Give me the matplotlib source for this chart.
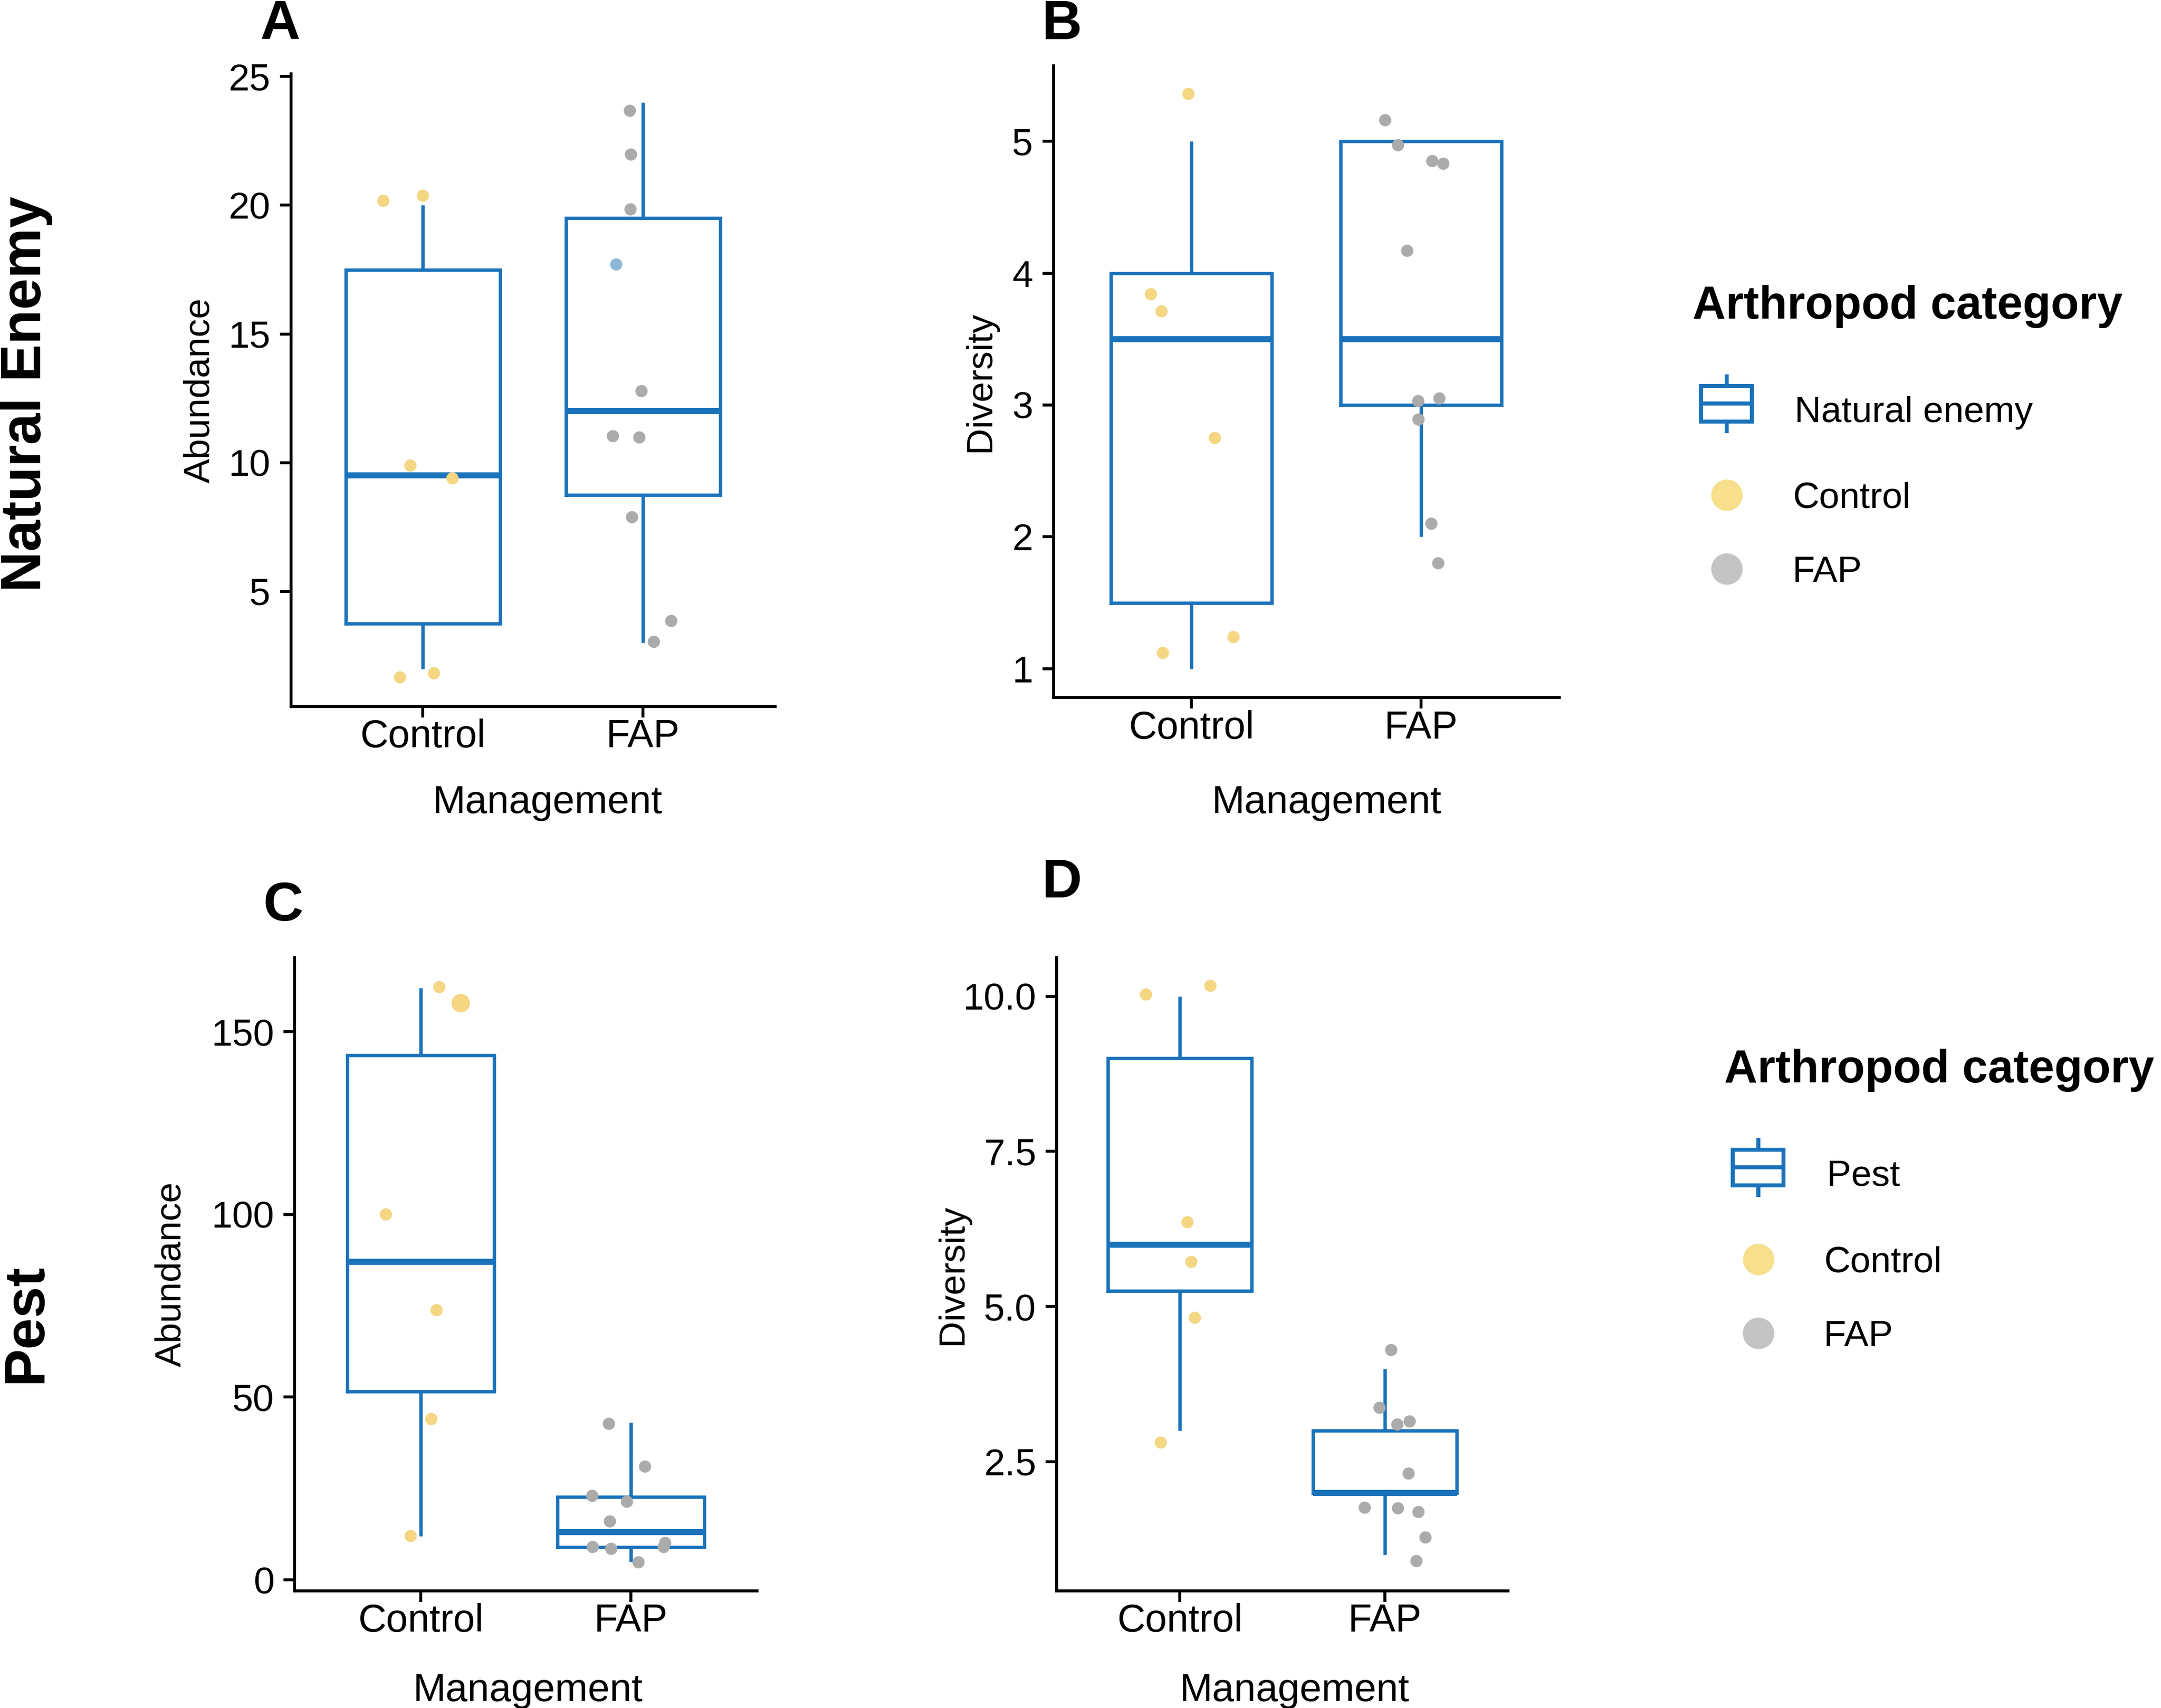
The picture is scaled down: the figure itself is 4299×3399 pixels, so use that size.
import matplotlib
matplotlib.use("Agg")
import matplotlib.pyplot as plt
from matplotlib.lines import Line2D
from matplotlib.patches import Rectangle
from matplotlib.legend_handler import HandlerBase
from matplotlib.font_manager import FontProperties, fontManager

# ---------------- data ----------------
categories = ["Control", "FAP"]

# Panel A - Natural enemy abundance
a_whislo = [2.0, 3.0]
a_q1 = [3.75, 8.75]
a_med = [9.5, 12.0]
a_q3 = [17.5, 19.5]
a_whishi = [20.0, 24.0]
a_control = [20.17, 20.37, 9.89, 9.39, 1.66, 1.82]
a_fap = [23.67, 21.97, 19.84, 17.70, 12.78, 11.03, 10.98, 7.88, 3.85, 3.04]
a_control_jit = [-0.18, 0.0, -0.057, 0.134, -0.104, 0.05]
a_fap_jit = [-0.06, -0.055, -0.057, -0.122, -0.007, -0.137, -0.017, -0.05, 0.128, 0.049]

# Panel B - Natural enemy diversity
b_whislo = [1.0, 2.0]
b_q1 = [1.5, 3.0]
b_med = [3.5, 3.5]
b_q3 = [4.0, 5.0]
b_whishi = [5.0, 5.0]
b_control = [5.36, 3.84, 3.71, 2.75, 1.24, 1.12]
b_fap = [5.16, 4.97, 4.85, 4.83, 4.17, 3.03, 3.05, 2.89, 2.10, 1.80]
b_control_jit = [-0.013, -0.176, -0.13, 0.102, 0.183, -0.124]
b_fap_jit = [-0.157, -0.101, 0.048, 0.096, -0.061, -0.013, 0.079, -0.012, 0.044, 0.074]

# Panel C - Pest abundance
c_whislo = [12.0, 5.0]
c_q1 = [51.5, 9.0]
c_med = [87.0, 13.0]
c_q3 = [143.5, 22.75]
c_whishi = [162.0, 43.0]
c_control = [162.2, 157.8, 100.0, 73.8, 44.0, 12.0]
c_fap = [42.7, 31.0, 23.0, 21.4, 16.0, 9.0, 8.5, 10.1, 9.0, 4.8]
c_control_jit = [0.088, 0.19, -0.166, 0.075, 0.05, -0.048]
c_fap_jit = [-0.105, 0.067, -0.184, -0.019, -0.1, -0.182, -0.094, 0.163, 0.156, 0.036]

# Panel D - Pest diversity
d_whislo = [3.0, 1.0]
d_q1 = [5.25, 2.0]
d_med = [6.0, 2.0]
d_q3 = [9.0, 3.0]
d_whishi = [10.0, 4.0]
d_control = [10.03, 10.17, 6.36, 5.72, 4.82, 2.81]
d_fap = [4.30, 3.37, 3.10, 3.15, 2.31, 1.76, 1.75, 1.69, 1.28, 0.90]
d_control_jit = [-0.165, 0.149, 0.037, 0.056, 0.073, -0.093]
d_fap_jit = [0.03, -0.027, 0.06, 0.12, 0.115, -0.099, 0.063, 0.163, 0.197, 0.153]

# ---------------- style ----------------
BLUE = "#1A72BB"
YELLOW = "#F4D683"
GREY = "#ABABAB"
ODD_BLUE = "#8DB7D8"
YELLOW_LEG = "#F7DF8C"
GREY_LEG = "#C4C4C4"
FONT = "Liberation Sans"

names = {f.name for f in fontManager.ttflist}
if "Liberation Sans Narrow" in names:
    LEG_FAMILY, LEG_FS = "Liberation Sans Narrow", 20.5
else:
    LEG_FAMILY, LEG_FS = FONT, 17.5
TITLE_FS = 22

plt.rcParams["font.family"] = [FONT, "DejaVu Sans"]

DPI = 300
W, H = 4299, 3399
PT = DPI / 72.0


def fx(px):
    return px / W


def fy(py):
    return 1 - py / H


fig = plt.figure(figsize=(W / DPI, H / DPI), dpi=DPI)
fig.patch.set_facecolor("white")


def draw_panel(rect, whislo, q1, med, q3, whishi, ctrl, fap, ctrl_jit, fap_jit,
               ylim, yticks, yticklabels, ylabel, ylab_x, xlab_xy,
               special=None):
    ax = fig.add_axes(rect)
    stats = []
    for i in range(2):
        stats.append(dict(whislo=whislo[i], q1=q1[i], med=med[i], q3=q3[i],
                          whishi=whishi[i], fliers=[]))
    ax.bxp(stats, positions=[1, 2], widths=0.70, showfliers=False, showcaps=False,
           boxprops=dict(color=BLUE, lw=1.6, solid_joinstyle="miter"),
           whiskerprops=dict(color=BLUE, lw=1.6, solid_capstyle="butt"),
           medianprops=dict(color=BLUE, lw=2.9, solid_capstyle="butt"),
           zorder=2)
    xs_c = [1 + j for j in ctrl_jit]
    xs_f = [2 + j for j in fap_jit]
    col_c = [YELLOW] * len(ctrl)
    col_f = [GREY] * len(fap)
    size_c = [34] * len(ctrl)
    size_f = [34] * len(fap)
    if special:
        for grp, idx, kind in special:
            if kind == "blue":
                (col_c if grp == 0 else col_f)[idx] = ODD_BLUE
            elif kind == "big":
                (size_c if grp == 0 else size_f)[idx] = 78
    ax.scatter(xs_c, ctrl, s=size_c, c=col_c, edgecolors="none", zorder=3)
    ax.scatter(xs_f, fap, s=size_f, c=col_f, edgecolors="none", zorder=3)

    ax.set_xlim(0.4, 2.6)
    ax.set_ylim(*ylim)
    ax.set_xticks([1, 2])
    ax.set_xticklabels(categories)
    ax.set_yticks(yticks)
    ax.set_yticklabels(yticklabels)
    for s in ["top", "right"]:
        ax.spines[s].set_visible(False)
    for s in ["left", "bottom"]:
        ax.spines[s].set_linewidth(1.4)
        ax.spines[s].set_color("black")
    ax.tick_params(axis="both", length=5.2, width=1.4, color="black",
                   labelcolor="black")
    ax.tick_params(axis="x", pad=0.6, labelsize=18.6)
    ax.tick_params(axis="y", pad=4.6, labelsize=18)
    ax.set_ylabel(ylabel, fontsize=17.5)
    ax.yaxis.label.set_va("center")
    ax.yaxis.set_label_coords(ylab_x, 0.5)
    ax.set_xlabel("Management", fontsize=18.8)
    ax.xaxis.label.set_va("center")
    ax.xaxis.set_label_coords(*xlab_xy)
    ax.set_facecolor("white")
    return ax


draw_panel([0.1346, 0.5864, 0.2241, 0.3703], a_whislo, a_q1, a_med, a_q3, a_whishi,
           a_control, a_fap, a_control_jit, a_fap_jit,
           (0.53, 25.1), [5, 10, 15, 20, 25], ["5", "10", "15", "20", "25"],
           "Abundance", -0.188, (0.530, -0.152), special=[(1, 3, "blue")])

draw_panel([0.4875, 0.5915, 0.2340, 0.3700], b_whislo, b_q1, b_med, b_q3, b_whishi,
           b_control, b_fap, b_control_jit, b_fap_jit,
           (0.78, 5.573), [1, 2, 3, 4, 5], ["1", "2", "3", "4", "5"],
           "Diversity", -0.144, (0.540, -0.166))

draw_panel([0.1364, 0.0686, 0.2139, 0.3706], c_whislo, c_q1, c_med, c_q3, c_whishi,
           c_control, c_fap, c_control_jit, c_fap_jit,
           (-3.0, 170.2), [0, 50, 100, 150], ["0", "50", "100", "150"],
           "Abundance", -0.267, (0.504, -0.158), special=[(0, 1, "big")])

draw_panel([0.4890, 0.0686, 0.2089, 0.3706], d_whislo, d_q1, d_med, d_q3, d_whishi,
           d_control, d_fap, d_control_jit, d_fap_jit,
           (0.42, 10.62), [2.5, 5.0, 7.5, 10.0], ["2.5", "5.0", "7.5", "10.0"],
           "Diversity", -0.230, (0.527, -0.158))

# panel letters
for letter, x, y in [("A", 0.1296, 0.9776), ("B", 0.4913, 0.9771),
                     ("C", 0.1310, 0.4610), ("D", 0.4913, 0.4746)]:
    fig.text(x, y, letter, ha="center", va="baseline", fontsize=26.5,
             fontweight="bold", color="black")

# row labels
fig.text(0.0189, 0.7692, "Natural Enemy", rotation=90, rotation_mode="anchor",
         ha="center", va="baseline", fontsize=27, fontweight="bold")
fig.text(0.0189, 0.2252, "Pest", rotation=90, rotation_mode="anchor",
         ha="center", va="baseline", fontsize=27, fontweight="bold")


# ---------------- legends ----------------
class BoxKey:
    pass


class BoxKeyHandler(HandlerBase):
    def create_artists(self, legend, orig_handle, xdescent, ydescent, width, height,
                       fontsize, trans):
        lw = 1.9
        cx = -xdescent + width / 2.0
        cy = 0.358 * fontsize + 2.4
        bw, bh, wh = 26.0 - lw, 19.0 - lw, 14.0
        rect = Rectangle((cx - bw / 2, cy - bh / 2), bw, bh, fill=False,
                         edgecolor=BLUE, lw=lw, joinstyle="miter", transform=trans)
        med = Line2D([cx - bw / 2, cx + bw / 2], [cy, cy], color=BLUE, lw=lw,
                     solid_capstyle="butt", transform=trans)
        w1 = Line2D([cx, cx], [cy + bh / 2, cy + wh], color=BLUE, lw=lw,
                    solid_capstyle="butt", transform=trans)
        w2 = Line2D([cx, cx], [cy - bh / 2, cy - wh], color=BLUE, lw=lw,
                    solid_capstyle="butt", transform=trans)
        return [rect, med, w1, w2]


class DotHandler(HandlerBase):
    def create_artists(self, legend, orig_handle, xdescent, ydescent, width, height,
                       fontsize, trans):
        cx = -xdescent + width / 2.0
        cy = 0.358 * fontsize
        m = Line2D([cx], [cy], ls="none", marker="o",
                   ms=orig_handle.get_markersize(),
                   mfc=orig_handle.get_markerfacecolor(), mec="none",
                   transform=trans)
        return [m]


leg_prop = FontProperties(family=LEG_FAMILY, size=LEG_FS)
title_prop = FontProperties(family=FONT, weight="bold", size=TITLE_FS)


def add_legend(label, left_px, title_cap_px, title_base_px, key_cx_px,
               label_left_px, label_base_px, dot_label_left_px, dot_bases_px):
    # legend with title + box key
    hl_px = 2 * (key_cx_px - left_px)
    title_bottom = title_base_px + 0.21 * TITLE_FS * PT
    row_top = label_base_px - 0.716 * LEG_FS * PT
    ls1 = (row_top - title_bottom) / PT / LEG_FS
    fig.legend([BoxKey()], [label], title="Arthropod category",
               loc="upper left", bbox_to_anchor=(fx(left_px), fy(title_cap_px)),
               bbox_transform=fig.transFigure, frameon=False,
               borderpad=0, borderaxespad=0,
               handlelength=hl_px / PT / LEG_FS, handleheight=0.7,
               handletextpad=(label_left_px - left_px - hl_px) / PT / LEG_FS,
               labelspacing=ls1, prop=leg_prop, title_fontproperties=title_prop,
               alignment="left", handler_map={BoxKey: BoxKeyHandler()})
    # legend with dots
    dots = [Line2D([], [], ls="none", marker="o", ms=15, mfc=YELLOW_LEG, mec="none"),
            Line2D([], [], ls="none", marker="o", ms=15, mfc=GREY_LEG, mec="none")]
    left2 = key_cx_px - 14 * PT
    ls2 = (dot_bases_px[1] - dot_bases_px[0]) / PT / LEG_FS - 0.926
    fig.legend(dots, ["Control", "FAP"], loc="upper left",
               bbox_to_anchor=(fx(left2), fy(dot_bases_px[0] - 0.716 * LEG_FS * PT)),
               bbox_transform=fig.transFigure, frameon=False,
               borderpad=0, borderaxespad=0,
               handlelength=28 / LEG_FS, handleheight=0.7,
               handletextpad=(dot_label_left_px - left2 - 28 * PT) / PT / LEG_FS,
               labelspacing=ls2, prop=leg_prop, alignment="left",
               handler_map={Line2D: DotHandler()})


add_legend("Natural enemy", 3367, 567, 639, 3434.5, 3570, 845, 3566, [1011, 1159])
add_legend("Pest", 3430, 2087, 2160, 3497.5, 3634, 2366, 3628, [2532, 2680])

fig.savefig("out.png", dpi=DPI, facecolor="white")
